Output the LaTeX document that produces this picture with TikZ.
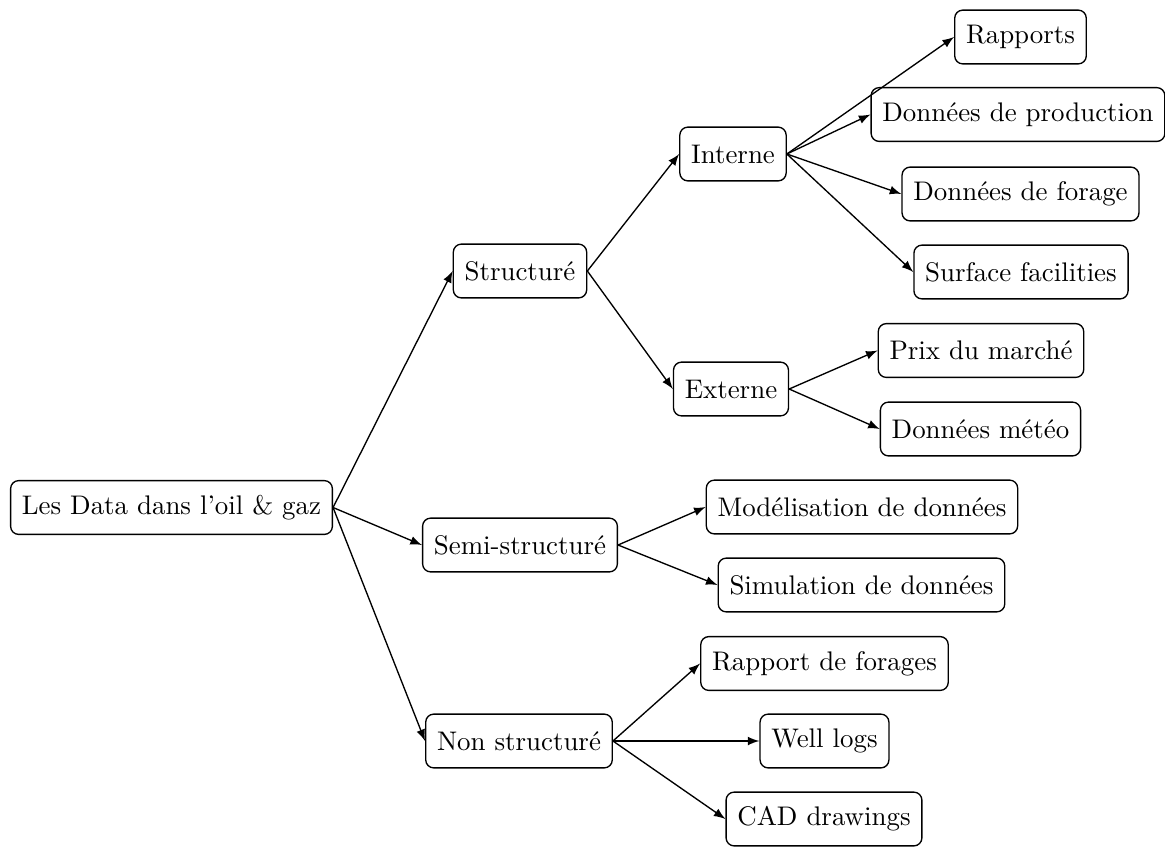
\documentclass[tikz,border=0pt]{standalone}
\usetikzlibrary{arrows}
\begin{document}
\begin{tikzpicture}[x=0.3717pt,y=-0.3717pt,
  box/.style={draw,rounded corners=3pt,minimum height=20pt,inner xsep=4.2pt,line width=0.5pt},
  link/.style={-latex,line width=0.5pt}]
\useasboundingbox (0,0) rectangle (1165,846);
\node[box] (root) at (171.5,507.5) {Les Data dans l'oil \& gaz};
\node[box] (st) at (520,271) {Structuré};
\node[box] (semi) at (520,545) {Semi-structuré};
\node[box] (non) at (519,741) {Non structuré};
\node[box] (int) at (733,154) {Interne};
\node[box] (ext) at (731,389) {Externe};
\node[box] (rap) at (1020.5,37) {Rapports};
\node[box] (prod) at (1018,114.5) {Données de production};
\node[box] (for) at (1020.5,194) {Données de forage};
\node[box] (surf) at (1021,272) {Surface facilities};
\node[box] (prix) at (981,350.5) {Prix du marché};
\node[box] (meteo) at (980.5,429) {Données météo};
\node[box] (mod) at (862,507) {Modélisation de données};
\node[box] (sim) at (861.5,585) {Simulation de données};
\node[box] (rf) at (824.5,663.5) {Rapport de forages};
\node[box] (well) at (824.5,741) {Well logs};
\node[box] (cad) at (824,819) {CAD drawings};
\foreach \a/\b in {root/st,root/semi,root/non,st/int,st/ext,int/rap,int/prod,int/for,int/surf,ext/prix,ext/meteo,semi/mod,semi/sim,non/rf,non/well,non/cad}
  \draw[link] (\a.east) -- (\b.west);
\end{tikzpicture}
\end{document}
